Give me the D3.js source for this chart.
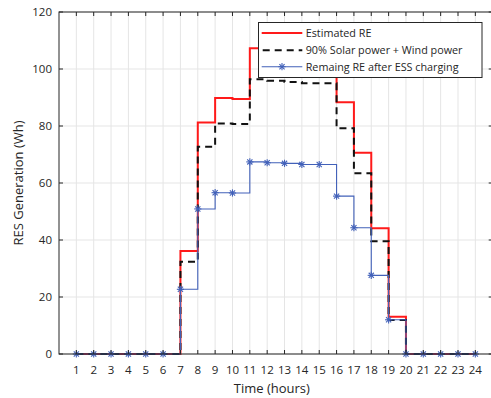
<!DOCTYPE html>
<html>
<head>
<meta charset="utf-8">
<script src="https://cdn.jsdelivr.net/npm/d3@7/dist/d3.min.js"></script>
<style>
  html, body { margin: 0; padding: 0; background: #fff; }
  svg { display: block; font-family: "Open Sans", "Noto Sans", sans-serif; }
</style>
</head>
<body>
<svg id="chart" width="491" height="398"></svg>
<script>
// Hourly renewable generation (Wh), hours 1..24
const hours = d3.range(1, 25);
const estimatedRE = [0, 0, 0, 0, 0, 0, 36.1, 81.2, 89.8, 89.5, 107.3, 107.3, 107.3, 107.3, 107.3, 88.3, 70.6, 44.1, 13.1, 0, 0, 0, 0, 0];
const solarWind90 = [0, 0, 0, 0, 0, 0, 32.4, 72.7, 80.9, 80.7, 96.4, 95.9, 95.4, 95.0, 95.0, 79.2, 63.4, 39.6, 11.9, 0, 0, 0, 0, 0];
const remainingRE = [0, 0, 0, 0, 0, 0, 22.7, 50.9, 56.6, 56.5, 67.4, 67.1, 66.9, 66.5, 66.5, 55.4, 44.3, 27.6, 12.0, 0, 0, 0, 0, 0];
const yTicks = [0, 20, 40, 60, 80, 100, 120];
const seriesNames = ["Estimated RE", "90% Solar power + Wind power", "Remaing RE after ESS charging"];

const svg = d3.select("#chart");
const m = { left: 59, top: 12, right: 492.7, bottom: 354 };
const x = d3.scaleLinear().domain([0, 25]).range([m.left, m.right]);
const y = d3.scaleLinear().domain([0, 120]).range([m.bottom, m.top]);
const axisColor = "#262626";
const gridColor = "#e5e5e5";

// grid
const grid = svg.append("g");
grid.selectAll(".gx").data(hours).enter().append("line")
  .attr("x1", d => x(d)).attr("x2", d => x(d))
  .attr("y1", m.top).attr("y2", m.bottom)
  .attr("stroke", gridColor).attr("stroke-width", 1);
grid.selectAll(".gy").data(yTicks).enter().append("line")
  .attr("x1", m.left).attr("x2", m.right)
  .attr("y1", d => y(d)).attr("y2", d => y(d))
  .attr("stroke", gridColor).attr("stroke-width", 1);

// series as stairs
const stairs = vals => d3.line()
  .x((d, i) => x(hours[i]))
  .y(d => y(d))
  .curve(d3.curveStepAfter)(vals);

svg.append("path").attr("d", stairs(estimatedRE))
  .attr("fill", "none").attr("stroke", "#ff1a1a").attr("stroke-width", 2);
svg.append("path").attr("d", stairs(solarWind90))
  .attr("fill", "none").attr("stroke", "#111").attr("stroke-width", 2)
  .attr("stroke-dasharray", "7,5");
const blue = "#4261b9";
svg.append("path").attr("d", stairs(remainingRE))
  .attr("fill", "none").attr("stroke", blue).attr("stroke-width", 1.1);

// asterisk marker
function asterisk(g, cx, cy, r) {
  const a = r * 0.72;
  const segs = [[-r, 0, r, 0], [0, -r, 0, r], [-a, -a, a, a], [-a, a, a, -a]];
  segs.forEach(s => g.append("line")
    .attr("x1", cx + s[0]).attr("y1", cy + s[1])
    .attr("x2", cx + s[2]).attr("y2", cy + s[3])
    .attr("stroke", blue).attr("stroke-width", 1.1));
}
const mk = svg.append("g");
remainingRE.forEach((v, i) => asterisk(mk, x(hours[i]), y(v), 3.6));

// axes box with inward ticks
const ax = svg.append("g").attr("stroke", axisColor).attr("stroke-width", 1).attr("fill", "none");
ax.append("rect").attr("x", m.left).attr("y", m.top)
  .attr("width", m.right - m.left).attr("height", m.bottom - m.top);
const tl = 4;
hours.forEach(h => {
  ax.append("line").attr("x1", x(h)).attr("x2", x(h)).attr("y1", m.bottom).attr("y2", m.bottom - tl);
  ax.append("line").attr("x1", x(h)).attr("x2", x(h)).attr("y1", m.top).attr("y2", m.top + tl);
});
yTicks.forEach(t => {
  ax.append("line").attr("x1", m.left).attr("x2", m.left + tl).attr("y1", y(t)).attr("y2", y(t));
  ax.append("line").attr("x1", m.right).attr("x2", m.right - tl).attr("y1", y(t)).attr("y2", y(t));
});

// tick labels
const tickFont = 11.5;
svg.append("g").selectAll("text").data(hours).enter().append("text")
  .attr("x", d => x(d)).attr("y", 374)
  .attr("text-anchor", "middle").attr("font-size", tickFont).attr("fill", axisColor)
  .text(d => d);
svg.append("g").selectAll("text").data(yTicks).enter().append("text")
  .attr("x", 52).attr("y", d => y(d) + 4)
  .attr("text-anchor", "end").attr("font-size", tickFont).attr("fill", axisColor)
  .text(d => d);

// axis titles
svg.append("text").attr("x", (m.left + m.right) / 2 - 4).attr("y", 393)
  .attr("text-anchor", "middle").attr("font-size", 13).attr("fill", axisColor)
  .text("Time (hours)");
svg.append("text").attr("transform", `translate(23,${(m.top + m.bottom) / 2}) rotate(-90)`)
  .attr("text-anchor", "middle").attr("font-size", 13).attr("fill", axisColor)
  .text("RES Generation (Wh)");

// legend
const lg = svg.append("g");
lg.append("rect").attr("x", 258.5).attr("y", 22.5).attr("width", 223.5).attr("height", 55)
  .attr("fill", "#fff").attr("stroke", axisColor).attr("stroke-width", 1);
const rowsY = [33, 50.3, 66.7];
const x0 = 261.7, x1 = 302.3;
lg.append("line").attr("x1", x0).attr("x2", x1).attr("y1", rowsY[0]).attr("y2", rowsY[0])
  .attr("stroke", "#ff1a1a").attr("stroke-width", 2);
lg.append("line").attr("x1", x0).attr("x2", x1).attr("y1", rowsY[1]).attr("y2", rowsY[1])
  .attr("stroke", "#111").attr("stroke-width", 2).attr("stroke-dasharray", "7,5")
  .attr("stroke-dashoffset", -1);
lg.append("line").attr("x1", x0).attr("x2", x1).attr("y1", rowsY[2]).attr("y2", rowsY[2])
  .attr("stroke", blue).attr("stroke-width", 1.1);
asterisk(lg, (x0 + x1) / 2, rowsY[2], 3.6);
seriesNames.forEach((n, i) => lg.append("text")
  .attr("x", 305.7).attr("y", rowsY[i] + 4)
  .attr("font-size", 10.8).attr("fill", axisColor).text(n));
</script>
</body>
</html>
